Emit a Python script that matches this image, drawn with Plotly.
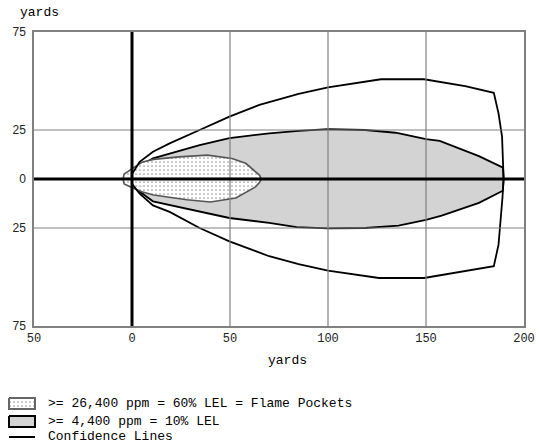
import plotly.graph_objects as go

# ---------------- data (yards) ----------------
conf_upper_x = [0, 3.9, 10.7, 19.2, 34.5, 49.7, 65, 85, 100, 127, 149, 170, 184.6, 187, 188.8, 189.5, 189.6]
conf_upper_y = [2.5, 8.8, 13.9, 18.2, 25, 31.8, 37.8, 43.4, 46.8, 50.9, 50.9, 47.4, 44, 33.5, 21.6, 6.3, 0]
conf_lower_x = [0, 3.9, 10.7, 19.2, 34.5, 49.7, 70, 85, 100, 126, 149, 170, 184.6, 187, 189, 189.6]
conf_lower_y = [-2.5, -7.5, -13.5, -16.8, -25, -31.8, -39.4, -43.4, -46.8, -50.5, -50.5, -47.1, -44.5, -33.5, -9.7, 0]

lel10_top_x = [0, 4, 10.7, 34.5, 49.7, 70, 85, 100, 119, 134.5, 150, 157, 177, 189.3, 189.6]
lel10_top_y = [2.5, 6.5, 10.5, 17.3, 20.8, 23.3, 24.6, 25.4, 25, 23.6, 20.4, 19.4, 11.7, 5.8, 0]
lel10_bot_x = [0, 4, 10.7, 34.5, 49.7, 70, 84, 100, 119, 136, 150, 158, 177, 189.2]
lel10_bot_y = [-2.5, -6.5, -11.4, -16.5, -19.9, -22.4, -24.6, -25.2, -25, -23.8, -20.8, -18.7, -12.2, -6]

flame_x = [-4.6, -4, -1, 5, 11, 24, 38.5, 51, 58, 65, 66, 65, 63, 53, 40, 28, 11, 5, -1, -4, -4.6]
flame_y = [0, 2.5, 4.5, 8.5, 10, 11.3, 12.2, 10.5, 8, 2, 0, -1.8, -4, -9.7, -11.7, -10.6, -8.2, -6.5, -4, -2.5, 0]

x_ticks = [-50, 0, 50, 100, 150, 200]
x_tick_labels = ["50", "0", "50", "100", "150", "200"]
y_ticks = [-75, -25, 0, 25, 75]
y_tick_labels = ["75", "25", "0", "25", "75"]
x_grid = [50, 100, 150]
y_grid = [-25, 25]

legend_labels = [
    ">= 26,400 ppm = 60% LEL = Flame Pockets",
    ">= 4,400 ppm = 10% LEL",
    "Confidence Lines",
]

# ---------------- figure ----------------
W, H = 539, 448
PL, PR, PT, PB = 34, 524, 32, 326    # plot box in window pixels
MONO = "Liberation Mono"
DOTS = dict(shape=".", bgcolor="white", fgcolor="#9a9a9a", size=4, solidity=0.15)

fig = go.Figure()

# 10% LEL zone (gray)
gx = lel10_top_x + lel10_bot_x[::-1]
gy = lel10_top_y + lel10_bot_y[::-1]
fig.add_trace(go.Scatter(x=gx, y=gy, mode="lines", fill="toself",
                         fillcolor="#d3d3d3", line=dict(color="black", width=1.8),
                         hoverinfo="skip", showlegend=False))

# flame pockets (dotted)
fig.add_trace(go.Scatter(x=flame_x, y=flame_y, mode="lines", fill="toself",
                         fillcolor="white", fillpattern=DOTS,
                         line=dict(color="#555555", width=1.6),
                         hoverinfo="skip", showlegend=False))

# confidence lines
cx = conf_upper_x + conf_lower_x[::-1]
cy = conf_upper_y + conf_lower_y[::-1]
fig.add_trace(go.Scatter(x=cx, y=cy, mode="lines",
                         line=dict(color="black", width=1.8),
                         hoverinfo="skip", showlegend=False))

# ---------------- legend (overlay axes in window pixels) ----------------
sw_x0, sw_x1 = 9, 35
fig.add_trace(go.Scatter(x=[sw_x0, sw_x1, sw_x1, sw_x0, sw_x0], y=[398, 398, 409, 409, 398],
                         mode="lines", fill="toself", fillcolor="white", fillpattern=DOTS,
                         line=dict(color="#666666", width=2),
                         xaxis="x2", yaxis="y2", hoverinfo="skip", showlegend=False))
fig.add_trace(go.Scatter(x=[sw_x0, sw_x1, sw_x1, sw_x0, sw_x0], y=[416, 416, 427, 427, 416],
                         mode="lines", fill="toself", fillcolor="#d3d3d3",
                         line=dict(color="black", width=2),
                         xaxis="x2", yaxis="y2", hoverinfo="skip", showlegend=False))
fig.add_trace(go.Scatter(x=[sw_x0, sw_x1], y=[437, 437], mode="lines",
                         line=dict(color="black", width=2),
                         xaxis="x2", yaxis="y2", hoverinfo="skip", showlegend=False))

annotations = []
for lbl, yy in zip(legend_labels, [403, 421, 436]):
    annotations.append(dict(text=lbl, x=46, y=yy, xref="x2", yref="y2",
                            xanchor="left", yanchor="middle", showarrow=False,
                            font=dict(family=MONO, size=13, color="black")))
annotations.append(dict(text="yards", x=18, y=12, xref="x2", yref="y2",
                        xanchor="left", yanchor="middle", showarrow=False,
                        font=dict(family=MONO, size=13, color="black")))
annotations.append(dict(text="yards", x=287, y=360, xref="x2", yref="y2",
                        xanchor="center", yanchor="middle", showarrow=False,
                        font=dict(family=MONO, size=13, color="black")))

# ---------------- grid & zero lines as shapes above fills ----------------
shapes = []
for gxv in x_grid:
    shapes.append(dict(type="line", xref="x", yref="y", x0=gxv, x1=gxv, y0=-75, y1=75,
                       line=dict(color="#808080", width=1.2), layer="above"))
for gyv in y_grid:
    shapes.append(dict(type="line", xref="x", yref="y", x0=-50, x1=200, y0=gyv, y1=gyv,
                       line=dict(color="#808080", width=1.2), layer="above"))
shapes.append(dict(type="line", xref="x", yref="y", x0=-50, x1=200, y0=0, y1=0,
                   line=dict(color="black", width=3), layer="above"))
shapes.append(dict(type="line", xref="x", yref="y", x0=0, x1=0, y0=-75, y1=75,
                   line=dict(color="black", width=3), layer="above"))

fig.update_layout(
    template="none",
    width=W, height=H, autosize=False,
    margin=dict(l=0, r=0, t=0, b=0, pad=0),
    paper_bgcolor="white", plot_bgcolor="rgba(0,0,0,0)",
    font=dict(family=MONO, size=12, color="black"),
    xaxis=dict(domain=[PL / W, PR / W], range=[-50, 200],
               tickvals=x_ticks, ticktext=x_tick_labels,
               showgrid=False, zeroline=False, showline=True, mirror=True, automargin=False,
               linecolor="#808080", linewidth=1.5, ticks="outside", ticklen=0,
               tickcolor="rgba(0,0,0,0)", tickfont=dict(family=MONO, size=12, color="#222"),
               ticklabeloverflow="allow", fixedrange=True, anchor="y"),
    yaxis=dict(domain=[(H - PB) / H, (H - PT) / H], range=[-75, 75],
               tickvals=y_ticks, ticktext=y_tick_labels,
               showgrid=False, zeroline=False, showline=True, mirror=True, automargin=False,
               linecolor="#808080", linewidth=1.5, ticks="outside", ticklen=4,
               tickcolor="rgba(0,0,0,0)", tickfont=dict(family="Liberation Sans", size=12, color="#222"),
               fixedrange=True, anchor="x"),
    xaxis2=dict(domain=[0, 1], range=[0, W], visible=False, anchor="y2",
                fixedrange=True, automargin=False),
    yaxis2=dict(domain=[0, 1], range=[H, 0], visible=False, anchor="x2",
                fixedrange=True, automargin=False),
    shapes=shapes,
    annotations=annotations,
    showlegend=False,
)

# remove the browser's default 8px page margin so the figure fills the window exactly
fig.write_html("out.html",
               config={"displayModeBar": False},
               post_script="document.body.style.margin='0px';document.body.style.overflow='hidden';")
